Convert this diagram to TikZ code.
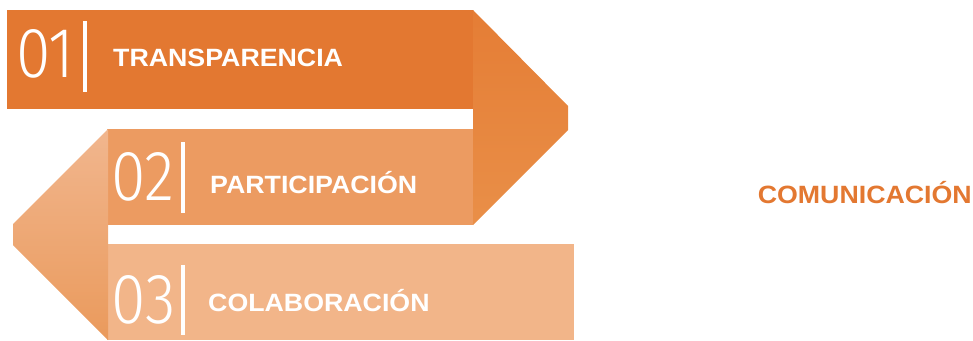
\documentclass[tikz,border=0pt]{standalone}
\usepackage{fontspec}
\usepackage{graphicx}
\setmainfont{Liberation Sans}
\newfontfamily\labfont{Liberation Sans}[FakeStretch=1.07]
\IfFontExistsTF{Fira Sans Light}
  {\newfontfamily\numfont{Fira Sans Light}\def\numscale{0.88}\def\numsize{71}}
  {\IfFontExistsTF{Fira Sans ExtraLight}
    {\newfontfamily\numfont{Fira Sans ExtraLight}\def\numscale{0.9}\def\numsize{71}}
    {\newfontfamily\numfont{DejaVu Sans}\def\numscale{0.61}\def\numsize{67}}}
\definecolor{c1}{HTML}{E37831}
\definecolor{c2}{HTML}{EC9B61}
\definecolor{c3}{HTML}{F2B589}
\definecolor{rtop}{HTML}{E57D35}
\definecolor{rbot}{HTML}{E98F48}
\definecolor{ltop}{HTML}{F1B68E}
\definecolor{lbot}{HTML}{EA9A5C}
\tikzset{
  lab/.style={text=white, inner sep=0pt, anchor=base west,
    font=\labfont\bfseries\fontsize{25}{25}\selectfont},
  num/.style={text=white, inner sep=0pt, anchor=base west,
    font=\numfont\fontsize{\numsize}{\numsize}\selectfont},
  bar/.style={draw=white, line width=3.5pt}
}
\begin{document}
\begin{tikzpicture}[x=1pt,y=-1pt]
\useasboundingbox (0,0) rectangle (973,340);
% bands
\fill[c1] (7,10) rectangle (473,109);
\fill[c2] (107,129) rectangle (473,225);
\fill[c3] (107,244) rectangle (574,340);
% folds
\shade[top color=rtop,bottom color=rbot] (473,10) -- (568,106) -- (568,130) -- (473,225) -- cycle;
\shade[top color=ltop,bottom color=lbot] (108,129) -- (13,224) -- (13,245) -- (108,340) -- cycle;
% band 1
\node[num] (n1) at (16,77) {\scalebox{\numscale}[1]{01}};
\draw[bar] (85,21) -- (85,92);
\node[lab] (t1) at (113,66) {TRANSPARENCIA};
% band 2
\node[num] (n2) at (111,200) {\scalebox{\numscale}[1]{02}};
\draw[bar] (183,142) -- (183,213);
\node[lab] (t2) at (210,193) {PARTICIPACIÓN};
% band 3
\node[num] (n3) at (111,323) {\scalebox{\numscale}[1]{03}};
\draw[bar] (183,265) -- (183,335);
\node[lab] (t3) at (208,311) {COLABORACIÓN};
% right label
\node[lab, text=c1, anchor=base east] (com) at (972,203) {COMUNICACIÓN};
\end{tikzpicture}
\end{document}
